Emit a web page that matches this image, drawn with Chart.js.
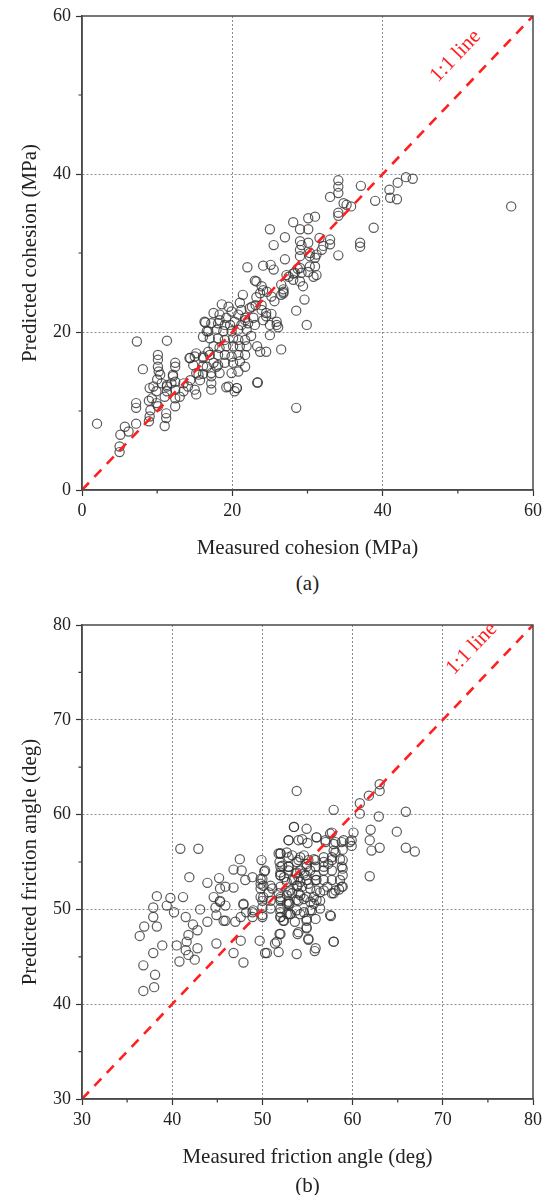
<!DOCTYPE html>
<html>
<head>
<meta charset="utf-8">
<script src="https://cdn.jsdelivr.net/npm/chart.js@4.4.1/dist/chart.umd.min.js"></script>
<style>
  html, body { margin: 0; padding: 0; background: #ffffff; }
  body { width: 551px; height: 1195px; position: relative; overflow: hidden; font-family: "Liberation Serif", "DejaVu Serif", serif; }
  .box { position: absolute; left: 0; width: 551px; height: 570px; }
  .cap { position: absolute; width: 551px; left: 0; text-align: center; font-size: 21px; color: #222; line-height: 24px; }
</style>
</head>
<body>
<div class="box" style="top:0px"><canvas id="chartA"></canvas></div>
<div class="box" style="top:609px"><canvas id="chartB"></canvas></div>
<div class="cap" style="left:32px;top:571px">(a)</div>
<div class="cap" style="left:32px;top:1173px">(b)</div>
<script>
// ---------- (a) cohesion ----------
const cohesionMeasured = [
  2.0,5.0,5.0,5.1,6.2,5.7,7.2,7.2,7.2,8.1,7.3,
  8.9,9.0,9.1,8.9,9.3,9.0,
  10.1,10.1,10.1,10.2,10.0,9.9,9.9,10.1,11.2,11.0,11.2,
  12.4,12.1,12.4,11.3,11.3,12.4,12.4,12.4,11.0,13.0,13.5,14.3,15.2,15.0,15.2,15.2,16.1,16.1,16.1,17.2,17.2,17.2,16.6,16.4,
  11.3,10.4,10.6,9.5,11.3,11.9,12.1,12.4,13.5,14.1,14.4,15.7,15.5,14.8,14.4,15.0,
  18.6,19.5,19.9,19.2,18.3,17.5,16.3,17.2,18.1,19.0,19.7,20.3,20.8,21.2,21.7,21.2,22.1,21.9,20.8,19.9,18.8,17.9,16.8,16.1,17.0,18.1,19.0,20.1,20.8,21.7,21.9,21.0,20.1,19.2,18.3,17.5,16.8,16.1,17.0,18.1,19.0,19.9,20.8,21.7,21.0,20.1,19.0,18.1,17.5,16.6,17.2,18.3,19.9,20.8,21.7,19.5,20.6,20.3,19.2,17.9,
  23.0,21.4,23.7,23.2,24.6,25.2,25.6,21.0,22.3,23.1,23.9,24.5,25.2,25.9,26.1,25.0,23.3,23.7,26.5,23.3,22.0,24.1,25.1,25.5,27.2,28.7,29.2,29.0,29.4,28.1,26.8,26.8,29.6,28.5,29.9,24.5,
  25.9,25.0,24.1,23.0,21.7,24.5,22.6,23.9,26.5,26.8,27.5,28.3,18.3,22.5,22.8,
  57.1,44.0,43.1,42.0,40.9,41.0,41.9,39.0,38.8,37.1,37.0,37.0,34.1,34.1,34.1,33.0,34.8,35.2,35.8,34.1,34.1,34.1,33.0,33.0,31.0,30.1,28.1,29.0,30.1,25.0,27.0,25.5,29.0,30.1,31.6,32.1,31.9,31.2,31.0,29.0,30.3,29.0,30.3,27.0,29.0,30.3,31.0,31.2,30.1,30.8,28.1,26.5,23.9,24.1,23.2,29.2,
  28.5,20.6,23.4
];
const cohesionPredicted = [
  8.4,5.5,4.8,7.0,7.4,8.0,8.4,10.4,11.0,15.3,18.8,
  8.7,9.3,10.1,11.3,11.6,12.9,
  17.1,16.5,15.6,15.0,14.0,12.5,11.0,10.6,9.1,8.1,9.7,
  16.1,14.4,13.7,13.3,12.5,12.7,11.6,10.6,11.8,11.8,13.5,16.7,17.3,12.7,12.1,14.8,16.9,15.7,14.7,13.5,12.7,14.4,20.1,21.2,
  18.9,14.6,13.5,13.1,13.1,13.5,14.6,15.6,12.5,13.1,13.9,13.9,14.6,15.8,16.7,16.9,
  23.5,23.2,22.6,21.8,22.2,22.4,21.3,21.1,21.1,20.9,20.9,21.3,22.2,22.8,21.8,20.9,21.1,20.3,20.3,20.1,20.1,20.3,20.1,19.4,19.2,19.2,19.0,19.2,19.0,19.0,18.2,18.2,18.2,18.2,18.0,18.2,17.5,16.7,17.1,17.1,17.1,16.9,17.1,17.1,16.3,16.1,16.1,15.8,16.1,15.6,14.8,14.8,14.8,15.0,15.6,13.1,12.9,12.5,13.0,15.6,
  26.5,24.7,24.9,24.4,25.1,24.5,23.9,23.7,23.0,23.4,22.8,22.0,22.3,21.3,20.6,19.6,18.2,17.5,17.8,13.6,28.2,28.4,28.5,27.9,27.2,28.0,27.5,26.4,25.8,26.6,25.4,24.9,24.1,22.7,20.9,17.5,
  20.9,20.9,21.5,20.9,21.5,22.4,23.2,23.4,26.0,25.1,27.0,27.5,21.5,19.5,21.8,
  35.9,39.4,39.6,38.9,38.0,37.0,36.8,36.6,33.2,38.5,31.3,30.8,39.2,38.4,37.6,37.1,36.3,36.1,35.9,35.1,34.7,29.7,31.7,31.1,34.6,34.4,33.9,33.0,33.0,33.0,32.0,31.0,31.5,31.3,31.9,30.9,30.4,29.8,29.4,30.4,30.0,29.6,29.6,29.2,28.1,28.3,28.3,27.2,27.6,27.0,27.4,24.7,25.8,25.3,26.4,31.0,
  10.4,12.9,13.6
];

// ---------- (b) friction angle ----------
const frictionMeasured = [
  38.3,37.9,37.9,38.3,36.9,36.4,37.9,38.9,39.4,39.8,40.2,41.2,41.5,40.5,41.6,41.8,40.9,42.9,41.9,
  36.8,38.1,38.0,36.8,41.5,41.8,42.5,42.8,40.8,47.9,
  42.3,42.8,43.1,43.9,45.2,45.9,46.8,43.9,44.6,44.8,45.3,44.9,45.9,44.9,46.8,47.9,48.2,47.6,49.7,48.9,50.5,
  47.5,46.8,47.7,49.9,50.2,49.8,49.8,49.8,50.0,49.8,
  51.8,52.0,52.0,51.8,52.0,52.9,52.9,52.9,53.5,54.0,54.0,54.0,53.9,54.0,54.0,53.0,52.0,52.3,53.1,53.9,53.8,51.8,51.4,51.9,53.8,
  48.9,48.1,50.9,50.7,45.9,49.0,50.0,54.9,54.9,55.1,50.3,55.8,
  57.9,60.8,61.8,63.0,63.0,60.8,62.9,65.9,62.0,64.9,61.9,62.1,63.0,65.9,66.9,61.9,60.1,59.9,59.9,57.5,58.1,59.0,57.9,58.9,58.9,58.9,58.9,58.9,57.9,58.5,57.6,57.9,
  59.7,58.8,57.9,58.1,57.0,56.0,57.7,55.7,56.8,57.7,58.6,58.8,57.7,56.8,55.9,54.9,55.1,54.6,53.8,53.3,52.7,52.0,52.2,52.0,52.4,52.9,53.8,54.6,54.9,55.9,56.8,57.7,58.6,58.8,58.1,57.7,56.8,56.0,55.3,54.4,53.8,53.5,53.1,52.7,52.0,52.9,53.8,54.6,55.3,56.0,56.4,55.5,54.6,53.8,52.7,52.0,52.4,53.6,54.9,55.9,57.5,54.9,54.0,52.0,51.6,55.1,57.9,55.9,
  52.0,52.9,51.9,52.9,52.0,52.7,52.0,52.9,52.0,52.7,52.0,52.9,52.0,54.2,54.9,53.5,54.4,56.0,55.0,57.0,55.9,54.9,53.7,54.2,54.8,55.3,55.9,56.8,57.3,57.7,56.8,56.0,55.1,54.2,53.3,51.1,50.1,50.0,50.3,50.9,50.1,53.3,54.2,54.9,55.7,56.4,57.2,56.4,55.7,55.3,54.2,53.1,52.9,50.9,50.0,48.9,47.9,47.6,47.0,50.0,45.7,45.3,45.3
];
const frictionPredicted = [
  51.4,50.2,49.2,48.2,48.2,47.2,45.4,46.2,50.4,51.2,49.7,51.3,49.2,46.2,46.6,47.3,56.4,56.4,53.4,
  44.1,43.1,41.8,41.4,45.7,45.2,44.7,45.9,44.5,44.4,
  48.4,47.8,50.0,52.8,53.3,52.4,52.3,48.7,51.3,50.2,50.8,49.4,48.8,46.4,45.4,50.6,49.7,46.7,46.7,49.2,45.4,
  55.3,54.2,54.1,55.2,54.0,53.2,52.7,52.2,50.9,51.3,
  55.9,54.5,53.6,51.7,50.9,57.3,55.5,54.5,58.7,57.3,55.2,53.4,52.5,51.7,50.9,50.6,49.7,48.8,49.5,47.4,45.3,45.5,46.4,47.4,62.5,
  53.4,53.1,52.5,51.8,50.4,49.9,49.4,48.8,48.0,46.8,45.4,45.6,
  60.5,61.2,62.0,62.5,63.2,60.1,59.8,60.3,58.4,58.2,57.3,56.2,56.5,56.5,56.1,53.5,58.1,57.3,56.7,58.0,57.1,57.3,56.2,56.3,55.2,54.3,53.6,52.4,51.7,52.1,49.3,46.6,
  57.1,57.1,56.9,56.0,57.3,57.6,58.1,55.3,55.0,55.2,55.3,54.5,54.1,54.1,54.5,54.5,55.2,55.7,55.0,55.7,56.0,55.9,54.6,53.9,53.4,54.1,53.9,53.8,53.1,53.1,53.1,53.1,53.1,52.4,52.0,51.7,52.0,52.0,52.2,52.4,52.5,53.1,52.0,51.5,51.1,50.8,51.0,51.1,50.8,51.0,50.1,49.9,49.7,49.9,49.5,49.2,48.8,48.7,49.0,49.0,49.4,48.1,47.6,47.4,46.6,46.9,46.6,45.9,
  55.9,57.3,55.0,54.5,53.6,52.9,52.4,51.8,51.3,50.6,50.1,49.5,49.2,55.5,58.5,58.7,57.4,57.6,57.0,57.1,55.2,54.8,53.8,54.1,53.6,54.1,53.6,54.5,54.8,55.5,55.5,53.1,52.7,52.9,53.1,52.2,52.5,53.2,54.1,50.9,51.3,51.7,51.5,51.3,51.3,51.8,52.4,50.9,50.6,49.9,49.5,49.5,50.6,50.1,49.2,49.7,50.5,49.2,48.7,50.2,48.8,50.9,52.2
];

const oneToOneA = [0, 60];
const oneToOneB = [30, 80];
const ticksA = [0, 20, 40, 60];
const ticksB = [30, 40, 50, 60, 70, 80];
const minorA = [10, 30, 50];
const minorB = [35, 45, 55, 65, 75];

const FONT = '"Liberation Serif", "Times New Roman", serif';

function pts(xs, ys) {
  const out = [];
  for (let i = 0; i < Math.min(xs.length, ys.length); i++) out.push({x: xs[i], y: ys[i]});
  return out;
}

const framePlugin = {
  id: 'frame',
  afterDraw(chart, args, opts) {
    const {ctx, chartArea: a, scales} = chart;
    ctx.save();
    // minor ticks
    ctx.strokeStyle = '#333';
    ctx.lineWidth = 1.2;
    ctx.beginPath();
    opts.minor.forEach(v => {
      const px = scales.x.getPixelForValue(v);
      ctx.moveTo(px, a.bottom); ctx.lineTo(px, a.bottom + 3.5);
      const py = scales.y.getPixelForValue(v);
      ctx.moveTo(a.left, py); ctx.lineTo(a.left - 3.5, py);
    });
    ctx.stroke();
    // frame
    ctx.strokeStyle = '#4a4a4a';
    ctx.lineWidth = 1.5;
    ctx.strokeRect(a.left, a.top, a.right - a.left, a.bottom - a.top);
    // 1:1 label
    const x0 = scales.x.getPixelForValue(opts.lineMin), y0 = scales.y.getPixelForValue(opts.lineMin);
    const x1 = scales.x.getPixelForValue(opts.lineMax), y1 = scales.y.getPixelForValue(opts.lineMax);
    const ang = Math.atan2(y1 - y0, x1 - x0);
    const tx = scales.x.getPixelForValue(opts.labelAt[0]);
    const ty = scales.y.getPixelForValue(opts.labelAt[1]);
    ctx.translate(tx, ty);
    ctx.rotate(ang);
    ctx.fillStyle = '#ff1f1f';
    ctx.font = '21px ' + FONT;
    ctx.textAlign = 'center';
    ctx.textBaseline = 'middle';
    ctx.fillText('1:1 line', 0, 0);
    ctx.restore();
  }
};

function makeChart(id, xs, ys, line, ticks, minor, xTitle, yTitle, labelAt) {
  const lo = ticks[0], hi = ticks[ticks.length - 1];
  const step = ticks[1] - ticks[0];
  const gridColor = (c) => (c.tick && (c.tick.value === lo || c.tick.value === hi)) ? 'rgba(0,0,0,0)' : '#8c8c8c';
  const axisCommon = (title, isX) => ({
    type: 'linear',
    min: lo, max: hi,
    afterBuildTicks: (s) => { s.ticks = ticks.map(v => ({value: v})); },
    ticks: {
      stepSize: step,
      color: '#222',
      font: {family: FONT, size: 18},
      padding: isX ? 4 : 5,
      callback: (v) => String(v)
    },
    grid: {
      color: gridColor,
      lineWidth: 1,
      drawTicks: true,
      tickLength: 6,
      tickColor: '#333',
      tickWidth: 1.2
    },
    border: { display: true, color: '#4a4a4a', width: 1.5, dash: [2, 2] },
    title: {
      display: true,
      text: title,
      color: '#222',
      font: {family: FONT, size: 21},
      padding: isX ? {top: 0, bottom: 9} : {top: 18, bottom: 0}
    },
    afterFit: isX ? (s) => { s.height = 80; } : (s) => { s.width = 82; }
  });
  return new Chart(document.getElementById(id), {
    type: 'scatter',
    data: {
      datasets: [
        {
          type: 'line',
          data: pts(line, line),
          borderColor: '#ff1f1f',
          borderWidth: 2.6,
          borderDash: [10, 8],
          pointRadius: 0,
          fill: false,
          tension: 0
        },
        {
          data: pts(xs, ys),
          pointRadius: 4.6,
          pointBorderWidth: 1.2,
          pointBorderColor: 'rgba(50,50,50,0.8)',
          pointBackgroundColor: 'rgba(255,255,255,0)',
          pointStyle: 'circle'
        }
      ]
    },
    options: {
      responsive: true,
      maintainAspectRatio: false,
      animation: false,
      devicePixelRatio: 1,
      layout: { padding: {top: 16, right: 18, left: 0, bottom: 0} },
      plugins: {
        legend: {display: false},
        tooltip: {enabled: false},
        frame: {minor: minor, lineMin: line[0], lineMax: line[1], labelAt: labelAt}
      },
      scales: {
        x: Object.assign(axisCommon(xTitle, true), {position: 'bottom'}),
        y: Object.assign(axisCommon(yTitle, false), {position: 'left'})
      }
    },
    plugins: [framePlugin]
  });
}

makeChart('chartA', cohesionMeasured, cohesionPredicted, oneToOneA, ticksA, minorA,
  'Measured cohesion (MPa)', 'Predicted cohesion (MPa)', [49.7, 54.9]);
makeChart('chartB', frictionMeasured, frictionPredicted, oneToOneB, ticksB, minorB,
  'Measured friction angle (deg)', 'Predicted friction angle (deg)', [73.2, 77.5]);
</script>
</body>
</html>
